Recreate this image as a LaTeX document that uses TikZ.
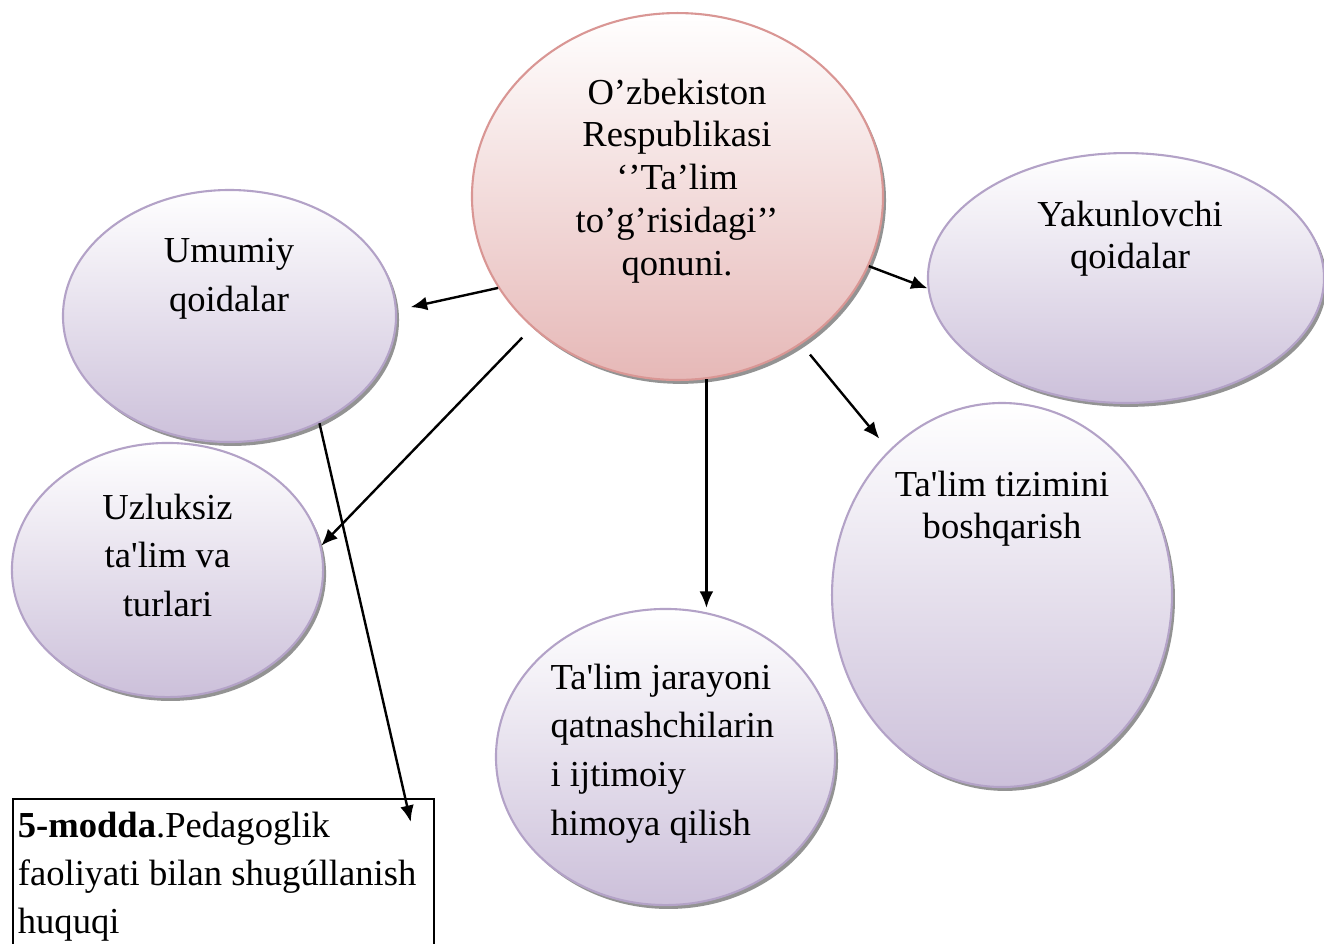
\documentclass[tikz,border=0pt]{standalone}
\usepackage{fontspec}
\setmainfont{Liberation Serif}[Ligatures=TeXOff]
\usepackage{tikz}
\usetikzlibrary{arrows.meta,shapes.geometric,shadows}
\definecolor{lavEdge}{RGB}{179,162,199}
\definecolor{lavFill}{RGB}{204,192,218}
\definecolor{roseEdge}{RGB}{217,150,148}
\definecolor{roseFill}{RGB}{230,184,183}
\tikzset{
  bubble/.style={ellipse, draw=lavEdge, line width=0.7pt, top color=white, bottom color=lavFill, inner sep=0pt,
    drop shadow={shadow xshift=1pt, shadow yshift=-1.3pt, fill=black!65, opacity=.65}},
  mainbubble/.style={bubble, draw=roseEdge, bottom color=roseFill},
  txt/.style={anchor=north, inner sep=0pt, align=center, font=\fontsize{12.2}{16.3}\selectfont},
  link/.style={line width=0.8pt, -{Latex[length=5.5pt,width=4.6pt]}}
}

\begin{document}
\begin{tikzpicture}[x=0.3333pt, y=-0.3333pt]
\useasboundingbox (0,0) rectangle (1324,943);
% bubbles
\node[mainbubble, minimum width=137pt, minimum height=122.3pt] (qonun) at (677.5,196.5) {};
\node[bubble, minimum width=111pt, minimum height=84pt] (umumiy) at (229.5,316) {};
\node[bubble, minimum width=103.7pt, minimum height=84.7pt] (uzluksiz) at (167.5,570) {};
\node[bubble, minimum width=132pt, minimum height=83.3pt] (yakun) at (1126,278) {};
\node[bubble, minimum width=113.3pt, minimum height=128pt] (tizim) at (1002,595) {};
\node[bubble, minimum width=113pt, minimum height=98.7pt] (jarayon) at (665.5,757) {};
% texts
\node[txt, font=\fontsize{12.2}{14.3}\selectfont] (qonunT) at (677,78)
  {O’zbekiston\\Respublikasi\\‘’Ta’lim\\to’g’risidagi’’\\qonuni.};
\node[txt] (umumiyT) at (229,238) {Umumiy\\qoidalar};
\node[txt] (uzluksizT) at (167.5,493) {Uzluksiz\\ta'lim va\\turlari};
\node[txt, font=\fontsize{12.2}{14.3}\selectfont] (yakunT) at (1130,200) {Yakunlovchi\\qoidalar};
\node[txt, font=\fontsize{12.2}{14}\selectfont] (tizimT) at (1002,470) {Ta'lim tizimini\\boshqarish};
\node[txt, anchor=north west, align=left] (jarayonT) at (550,663)
  {Ta'lim jarayoni\\qatnashchilarin\\i ijtimoiy\\himoya qilish};
\node[draw, line width=0.5pt, anchor=north west, text width=137pt, align=flush left, inner xsep=1.7pt, inner ysep=4.5pt,
  font=\fontsize{12.2}{16}\selectfont] (modda) at (12,798)
  {\textbf{5-modda}.Pedagoglik\\faoliyati bilan shugúllanish\\huquqi};
% arrows
\draw[link, shorten >=4.7pt] (qonun.207) -- (umumiy.2.5);
\draw[link, shorten <=4.7pt] (qonun.222.5) -- (uzluksiz.9);
\draw[link] (qonun.279) -- (qonun.279 |- jarayon.north);
\draw[link, shorten <=4.5pt, shorten >=5pt] (qonun.310.7) -- (tizim.128.3);
\draw[link] (qonun.340.5) -- (yakun.183);
\draw[link] (umumiy.310.3) -- ([xshift=-8pt,yshift=-8pt]modda.north east);
\end{tikzpicture}
\end{document}
